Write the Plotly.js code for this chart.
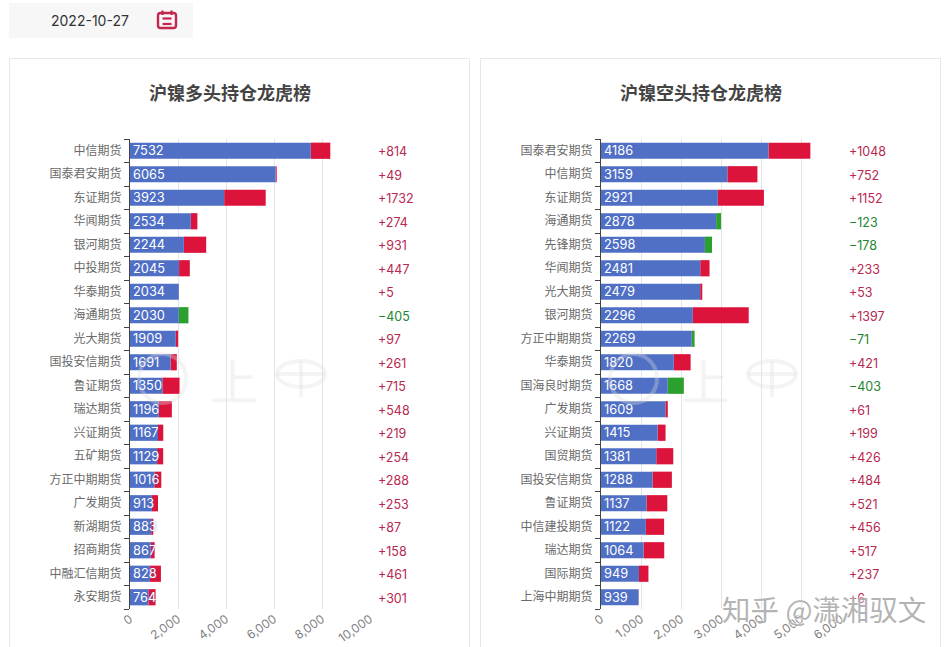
<!DOCTYPE html>
<html><head><meta charset="utf-8">
<script src="https://cdn.plot.ly/plotly-3.0.1.min.js"></script>
<style>html,body{margin:0;padding:0;background:#fff;overflow:hidden}#c{width:949px;height:647px}</style>
</head><body><div id="c"></div>
<script>
const dateLabel = "2022-10-27";
const longTitle = "沪镍多头持仓龙虎榜";
const longNames = ["中信期货","国泰君安期货","东证期货","华闻期货","银河期货","中投期货","华泰期货","海通期货","光大期货","国投安信期货","鲁证期货","瑞达期货","兴证期货","五矿期货","方正中期期货","广发期货","新湖期货","招商期货","中融汇信期货","永安期货"];
const longValues = [7532,6065,3923,2534,2244,2045,2034,2030,1909,1691,1350,1196,1167,1129,1016,913,883,867,828,764];
const longDeltas = [814,49,1732,274,931,447,5,-405,97,261,715,548,219,254,288,253,87,158,461,301];
const longTicks = [0,2000,4000,6000,8000,10000];
const shortTitle = "沪镍空头持仓龙虎榜";
const shortNames = ["国泰君安期货","中信期货","东证期货","海通期货","先锋期货","华闻期货","光大期货","银河期货","方正中期期货","华泰期货","国海良时期货","广发期货","兴证期货","国贸期货","国投安信期货","鲁证期货","中信建投期货","瑞达期货","国际期货","上海中期期货"];
const shortValues = [4186,3159,2921,2878,2598,2481,2479,2296,2269,1820,1668,1609,1415,1381,1288,1137,1122,1064,949,939];
const shortDeltas = [1048,752,1152,-123,-178,233,53,1397,-71,421,-403,61,199,426,484,521,456,517,237,6];
const shortTicks = [0,1000,2000,3000,4000,5000,6000];
const watermark = "知乎 @潇湘驭文";

const W=949,H=647;
const FONT='Inter, "Noto Sans CJK SC", sans-serif';
const CJK='"Noto Sans CJK SC", sans-serif';
const BLUE="#5070c6",RED="#dc143c",GREEN="#2ca02c",RTXT="#b8284f",GTXT="#23862f",GRID="#e2e4ea";
const LOGO="rgba(222,222,222,0.34)";
const px=x=>x/W, py=y=>1-y/H;

function panel(names,vals,dels,xa,ya){
  const delta={type:"bar",orientation:"h",y:names,base:vals,x:dels.map(Math.abs),xaxis:xa,yaxis:ya,
    marker:{color:dels.map(d=>d<0?GREEN:RED)},hoverinfo:"skip"};
  const main={type:"bar",orientation:"h",y:names,x:vals,xaxis:xa,yaxis:ya,marker:{color:BLUE},
    text:vals.map(String),textposition:"inside",insidetextanchor:"start",constraintext:"none",textangle:0,
    cliponaxis:false,textfont:{color:"#fff",size:12.8,family:FONT,shadow:"0 0 2px rgba(80,112,198,0.9)"},hoverinfo:"skip"};
  return [delta,main];
}
function xAxis(dom,ticks,max,anchor){
  return {domain:dom,range:[0,max],tickvals:ticks,ticktext:ticks.map(t=>t.toLocaleString("en-US")),tickangle:-35,
    showgrid:true,gridcolor:GRID,gridwidth:1,zeroline:false,showline:false,ticks:"",anchor:anchor,
    tickfont:{size:12,color:"#808080",family:FONT},automargin:false};
}
function yAxis(dom,names,anchor){
  return {domain:dom,type:"category",categoryorder:"array",categoryarray:names,range:[names.length-0.5,-0.5],
    tickson:"boundaries",ticks:"outside",ticklen:5,tickcolor:"#444",showline:true,linecolor:"#444",linewidth:1,
    ticklabelstandoff:5,showgrid:false,zeroline:false,anchor:anchor,tickfont:{size:12,color:"#6a6a6a",family:CJK},automargin:false,tickmode:"array",tickvals:names,ticktext:names};
}
function deltaNotes(names,dels,xPix,yref){
  return names.map((n,i)=>({xref:"paper",yref:yref,x:px(xPix),y:n,xanchor:"left",yanchor:"middle",showarrow:false,yshift:-1,
    text:(dels[i]<0?"−"+Math.abs(dels[i]):"+"+dels[i]),font:{size:12.5,color:dels[i]<0?GTXT:RTXT,family:FONT}}));
}
function free(x,y,text,size,color,opts){
  return Object.assign({xref:"paper",yref:"paper",x:px(x),y:py(y),text:text,showarrow:false,xanchor:"center",yanchor:"middle",
    font:{size:size,color:color,family:CJK}},opts||{});
}
function rect(x0,y0,x1,y1,fill,line){
  return {type:"rect",xref:"paper",yref:"paper",x0:px(x0),x1:px(x1),y0:py(y0),y1:py(y1),
    fillcolor:fill||"rgba(0,0,0,0)",line:{color:line||"rgba(0,0,0,0)",width:line?1:0},layer:"below"};
}
function seg(a,b,c,d,color,w){
  return {type:"line",xref:"paper",yref:"paper",layer:"above",x0:px(a),y0:py(b),x1:px(c),y1:py(d),line:{color:color,width:w}};
}
function oval(a,b,c,d,color,w){
  return {type:"circle",xref:"paper",yref:"paper",layer:"above",x0:px(a),x1:px(c),y0:py(b),y1:py(d),line:{color:color,width:w},fillcolor:"rgba(0,0,0,0)"};
}
function logo(dx){
  return [oval(139+dx,354,186+dx,403,LOGO,4),
    oval(277+dx,361,325+dx,387,LOGO,4),
    seg(301+dx,361,301+dx,397,LOGO,4),
    seg(277+dx,374,325+dx,374,LOGO,4)];
}
const iconC="#c4264f";
const shapes=[
  rect(9,3,193,38,"#f7f7f7"),
  rect(9.5,58.5,469.5,700,"#fff","#e8e8e8"),
  rect(480.5,58.5,940.5,700,"#fff","#e8e8e8"),
  {type:"path",xref:"paper",yref:"paper",layer:"above",line:{color:iconC,width:2.4},fillcolor:"rgba(0,0,0,0)",
   path:`M ${px(160.5)} ${py(13)} L ${px(173.5)} ${py(13)} Q ${px(176)} ${py(13)} ${px(176)} ${py(15.5)} L ${px(176)} ${py(25.5)} Q ${px(176)} ${py(28)} ${px(173.5)} ${py(28)} L ${px(160.5)} ${py(28)} Q ${px(158)} ${py(28)} ${px(158)} ${py(25.5)} L ${px(158)} ${py(15.5)} Q ${px(158)} ${py(13)} ${px(160.5)} ${py(13)} Z`},
  seg(162.5,10.5,162.5,15,iconC,2.2),seg(171.5,10.5,171.5,15,iconC,2.2),
  seg(162.5,18.5,171.5,18.5,iconC,2.2),seg(162.5,24,171.5,24,iconC,2.2),
  ...logo(0),...logo(471)
];
const annotations=[
  free(90,21,dateLabel,14,"#333",{font:{size:14,color:"#333",family:FONT}}),
  free(230,92,"<b>"+longTitle+"</b>",18,"#444"),
  free(701,92,"<b>"+shortTitle+"</b>",18,"#444"),
  ...deltaNotes(longNames,longDeltas,376,"y"),
  ...deltaNotes(shortNames,shortDeltas,847,"y2"),
  free(234,379,"上",48,LOGO),
  free(705,379,"上",48,LOGO),
  free(824,608,watermark,28.5,"rgba(130,130,130,0.62)",{font:{size:28.5,color:"rgba(130,130,130,0.62)",family:CJK,shadow:"0 0 3px #fff, 0 0 3px #fff, 0 0 2px #fff"}})
];
const layout={width:W,height:H,margin:{l:0,r:0,t:0,b:0},paper_bgcolor:"#fff",plot_bgcolor:"rgba(0,0,0,0)",
  barmode:"overlay",bargap:0.31,showlegend:false,shapes:shapes,annotations:annotations,
  xaxis:xAxis([px(130),px(370)],longTicks,10000,"y"),
  yaxis:yAxis([py(609),py(139)],longNames,"x"),
  xaxis2:xAxis([px(601),px(841)],shortTicks,6000,"y2"),
  yaxis2:yAxis([py(609),py(139)],shortNames,"x2")};
const data=[...panel(longNames,longValues,longDeltas,"x","y"),...panel(shortNames,shortValues,shortDeltas,"x2","y2")];
Plotly.newPlot("c",data,layout,{displayModeBar:false,staticPlot:true});
</script></body></html>
